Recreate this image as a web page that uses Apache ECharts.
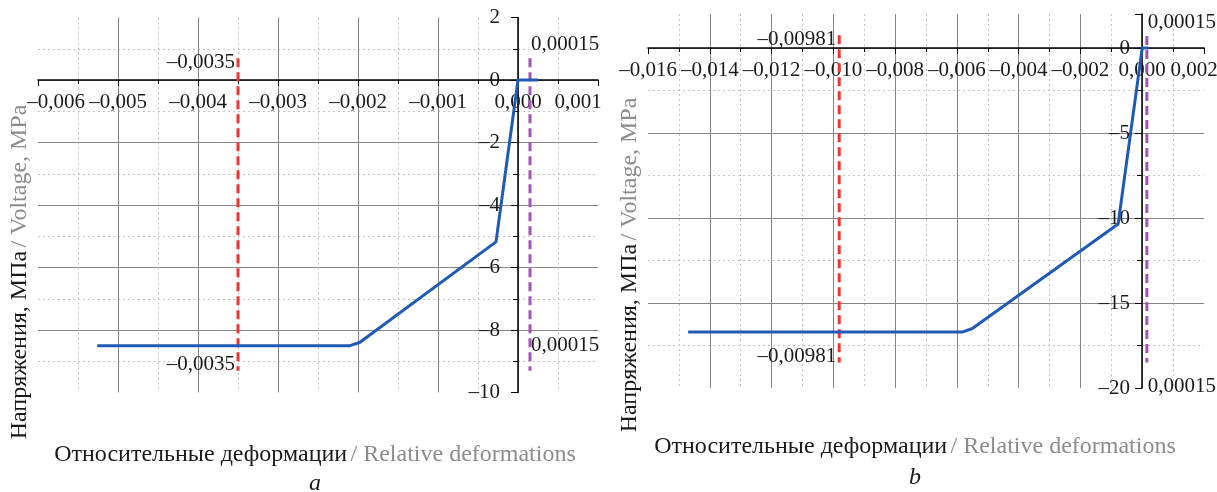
<!DOCTYPE html>
<html>
<head>
<meta charset="utf-8">
<title>Напряжения – деформации</title>
<script src="https://cdn.jsdelivr.net/npm/echarts@6/dist/echarts.min.js"></script>
<style>
html, body { margin: 0; padding: 0; background: #fff; }
#chart { width: 1217px; height: 492px; }
</style>
</head>
<body>
<div id="chart"></div>
<script type="text/javascript">
// a: diagram a, b: diagram b (strain, stress MPa)
var strainA = [-0.00526, -0.0021, -0.00198, -0.000275, 0, 0.00025];
var stressA = [-8.5, -8.5, -8.4, -5.18, 0, 0];
var strainB = [-0.0147, -0.0058, -0.0055, -0.00078, 0, 0.0002];
var stressB = [-16.7, -16.7, -16.5, -10.35, 0, 0];

// limit strains (dashed lines): [value, top, bottom]
var limitA = [-0.0035, 0.7, -9.3];
var limitB = [-0.00981, 0.75, -18.5];
var tensionA = [0.00015, 0.7, -9.3];
var tensionB = [0.00015, 0.7, -18.5];
var limitLabelA = '–0,0035';
var limitLabelB = '–0,00981';
var tensionLabel = '0,00015';

var FONT = "'Liberation Serif', 'DejaVu Serif', serif";
var INK = '#1a1a1a';
var GREY = '#8c8c8c';

function fmtX(v) {
	if (Math.abs(v) < 1e-12) return '0,000';
	return (v < 0 ? '–' : '') + Math.abs(v).toFixed(3).replace('.', ',');
}
function fmtY(v) {
	if (Math.abs(v) < 1e-9) return '0';
	return v < 0 ? '–' + (-v) : '' + v;
}

function zip(xs, ys) {
	var out = [];
	for (var i = 0; i < xs.length; i++) out.push([xs[i], ys[i]]);
	return out;
}

// axes are moved onto the zero lines with offset (pixels from grid edge)
// padMin / padMax push the end labels inwards like in the source figure
function xAxisCfg(grid, min, max, step, off, padMin, padMax) {
	return {
		type: 'value', gridIndex: grid, min: min, max: max, interval: step,
		position: 'bottom', offset: off,
		axisLine: { onZero: false, lineStyle: { color: '#000', width: 1.5 } },
		axisTick: { show: true, length: 6, lineStyle: { color: '#000' } },
		minorTick: { show: true, splitNumber: 2, length: 4, lineStyle: { color: '#000' } },
		axisLabel: {
			formatter: function (v) {
				if (padMin && Math.abs(v - min) < 1e-12) return '{m|' + fmtX(v) + '}';
				if (padMax && Math.abs(v - max) < 1e-12) return '{n|' + fmtX(v) + '}';
				return fmtX(v);
			},
			rich: {
				m: { fontFamily: FONT, fontSize: 21, color: INK, padding: [0, 0, 0, padMin] },
				n: { fontFamily: FONT, fontSize: 21, color: INK, padding: [0, padMax, 0, 0] }
			},
			fontFamily: FONT, fontSize: 21, color: INK, margin: 12
		},
		splitLine: { show: true, showMinLine: false, showMaxLine: false, lineStyle: { color: '#858585', width: 1 } },
		minorSplitLine: { show: true, lineStyle: { color: '#c4c4c4', width: 1, type: [2, 3] } }
	};
}

function yAxisCfg(grid, min, max, step, off, only5, margin) {
	return {
		type: 'value', gridIndex: grid, min: min, max: max, interval: step,
		position: 'left', offset: off,
		axisLine: { onZero: false, lineStyle: { color: '#000', width: 1.5 } },
		axisTick: { show: true, length: 7, lineStyle: { color: '#000' } },
		minorTick: { show: true, splitNumber: 2, length: 5, lineStyle: { color: '#000' } },
		axisLabel: {
			formatter: function (v) {
				if (only5 && (v > 0 || Math.abs(v % 5) > 1e-9)) return '';
				return fmtY(v);
			},
			fontFamily: FONT, fontSize: 21, color: INK, margin: margin
		},
		splitLine: { show: true, showMinLine: false, showMaxLine: false, lineStyle: { color: '#858585', width: 1 } },
		minorSplitLine: { show: true, lineStyle: { color: '#c4c4c4', width: 1, type: [2, 3] } }
	};
}

function dashedLine(idx, lim, color, label, side) {
	var lab = function (pos, off) {
		return { show: true, position: pos, offset: off, formatter: label,
			fontFamily: FONT, fontSize: 21, color: INK, distance: 3 };
	};
	var topLab, botLab;
	if (side === 'left') {
		topLab = lab('left', [0, 4]);
		botLab = lab('left', [0, -6]);
	} else {
		topLab = lab('right', [-2, -14]);
		botLab = lab('right', [-2, side === 'rightLow' ? 24 : -25]);
	}
	return {
		type: 'line', xAxisIndex: idx, yAxisIndex: idx,
		symbol: 'circle', symbolSize: 0, showSymbol: true,
		lineStyle: { color: color, width: 3, type: [9, 5] },
		itemStyle: { color: color },
		data: [
			{ value: [lim[0], lim[1]], label: topLab },
			{ value: [lim[0], lim[2]], label: botLab }
		],
		z: 3
	};
}

function curve(idx, xs, ys) {
	return {
		type: 'line', xAxisIndex: idx, yAxisIndex: idx,
		showSymbol: false, symbol: 'none',
		lineStyle: { color: '#1f5bb4', width: 3 },
		data: zip(xs, ys),
		z: 4
	};
}

function richTitle(x, y, rot) {
	return {
		type: 'text', x: x, y: y, rotation: rot,
		style: {
			text: '{a|Напряжения, МПа} {b|/ Voltage, MPa}',
			align: 'center', verticalAlign: 'middle',
			rich: {
				a: { fontFamily: FONT, fontSize: 24, fill: INK, color: INK },
				b: { fontFamily: FONT, fontSize: 24, fill: GREY, color: GREY }
			}
		}
	};
}
function xTitle(x, y) {
	return {
		type: 'text', x: x, y: y,
		style: {
			text: '{a|Относительные деформации} {b|/ Relative deformations}',
			align: 'center', verticalAlign: 'middle',
			rich: {
				a: { fontFamily: FONT, fontSize: 24, fill: INK, color: INK },
				b: { fontFamily: FONT, fontSize: 24, fill: GREY, color: GREY }
			}
		}
	};
}
function letter(x, y, t) {
	return {
		type: 'text', x: x, y: y,
		style: { text: t, fontFamily: FONT, fontSize: 24, fontStyle: 'italic', fill: INK,
			align: 'center', verticalAlign: 'middle' }
	};
}

var chart = echarts.init(document.getElementById('chart'));
var option = {
	animation: false,
	backgroundColor: '#fff',
	grid: [
		{ left: 38, top: 17.5, width: 560, height: 375, outerBoundsMode: 'none' },
		{ left: 648, top: 14, width: 556, height: 374, outerBoundsMode: 'none' }
	],
	xAxis: [
		xAxisCfg(0, -0.006, 0.001, 0.001, -312.5, 36, 40),
		xAxisCfg(1, -0.016, 0.002, 0.002, -340, 0, 20)
	],
	yAxis: [
		yAxisCfg(0, -10, 2, 2, -480, false, 18),
		yAxisCfg(1, -20, 2, 5, -494, true, 12)
	],
	series: [
		dashedLine(0, limitA, '#f03434', limitLabelA, 'left'),
		dashedLine(0, tensionA, '#a354b4', tensionLabel, 'right'),
		curve(0, strainA, stressA),
		dashedLine(1, limitB, '#f03434', limitLabelB, 'left'),
		dashedLine(1, tensionB, '#a354b4', tensionLabel, 'rightLow'),
		curve(1, strainB, stressB)
	],
	graphic: [
		richTitle(20, 272, Math.PI / 2),
		richTitle(630, 265, Math.PI / 2),
		xTitle(315, 455),
		xTitle(915, 447),
		letter(315, 484, 'a'),
		letter(915, 478, 'b')
	]
};
chart.setOption(option);
</script>
</body>
</html>
